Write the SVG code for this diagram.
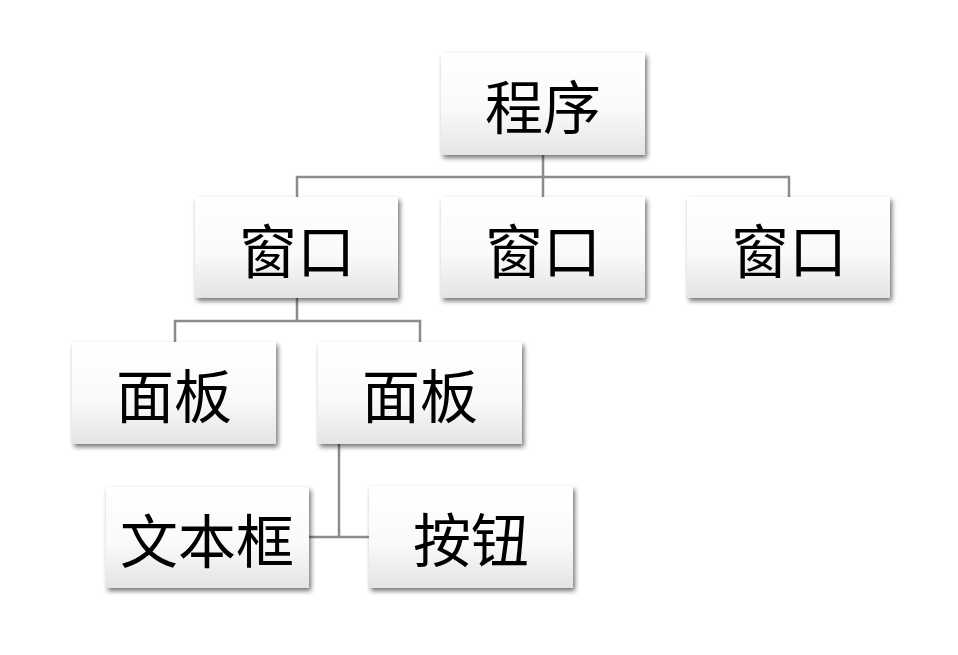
<svg xmlns="http://www.w3.org/2000/svg" width="958" height="655" viewBox="0 0 958 655">
<style>
.box{fill:url(#g);filter:url(#sh)}
.t{font-family:"Noto Sans CJK SC","Noto Sans",sans-serif;font-size:58px;fill:#000;text-anchor:middle;dominant-baseline:central}
.c{fill:none;stroke:#8c8c8c;stroke-width:2.5}
</style>
<defs>
<linearGradient id="g" x1="0" y1="0" x2="0" y2="1">
<stop offset="0" stop-color="#ffffff"/>
<stop offset="0.55" stop-color="#fafafa"/>
<stop offset="1" stop-color="#e4e4e4"/>
</linearGradient>
<filter id="sh" x="-10%" y="-10%" width="125%" height="130%">
<feGaussianBlur in="SourceAlpha" stdDeviation="2.5"/>
<feOffset dx="2" dy="3" result="b"/>
<feComponentTransfer><feFuncA type="linear" slope="0.55"/></feComponentTransfer>
<feMerge><feMergeNode/><feMergeNode in="SourceGraphic"/></feMerge>
</filter>
</defs>
<rect width="958" height="655" fill="#fff"/>
<g id="connectors">
<path class="c" d="M543 155V177M297 197V177H789V197M543 177V197"/>
<path class="c" d="M297 298V321M175 342V321H420V342"/>
<path class="c" d="M339 444V537M309 537H369"/>
</g>
<g id="n1"><rect class="box" x="441" y="53" width="204" height="102"/><text class="t" x="543" y="104">程序</text></g>
<g id="n2"><rect class="box" x="195" y="197" width="203" height="101"/><text class="t" x="297" y="248">窗口</text></g>
<g id="n3"><rect class="box" x="441" y="197" width="204" height="101"/><text class="t" x="543" y="248">窗口</text></g>
<g id="n4"><rect class="box" x="687" y="197" width="203" height="101"/><text class="t" x="789" y="248">窗口</text></g>
<g id="n5"><rect class="box" x="72" y="342" width="204" height="102"/><text class="t" x="174" y="393">面板</text></g>
<g id="n6"><rect class="box" x="318" y="342" width="204" height="102"/><text class="t" x="420" y="393">面板</text></g>
<g id="n7"><rect class="box" x="106" y="487" width="203" height="101"/><text class="t" x="207" y="538">文本框</text></g>
<g id="n8"><rect class="box" x="369" y="486" width="204" height="102"/><text class="t" x="471" y="537">按钮</text></g>
</svg>
